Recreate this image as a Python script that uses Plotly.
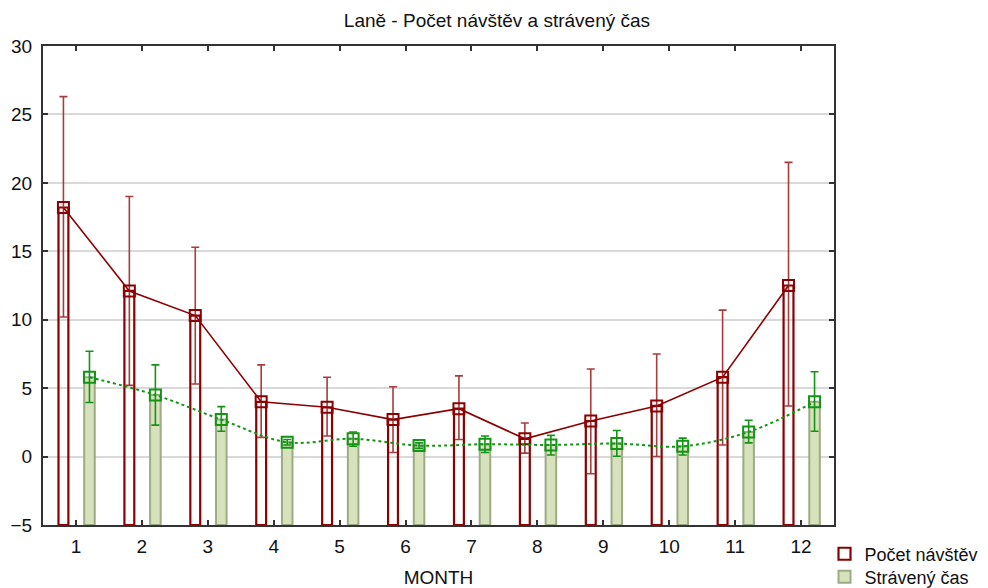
import numpy as np
import plotly.graph_objects as go

months = [1, 2, 3, 4, 5, 6, 7, 8, 9, 10, 11, 12]
month_labels = ["1", "2", "3", "4", "5", "6", "7", "8", "9", "10", "11", "12"]

# Počet návštěv (mean, upper and lower limits)
visits_mean = [18.2, 12.1, 10.3, 4.0, 3.6, 2.7, 3.5, 1.3, 2.6, 3.7, 5.8, 12.5]
visits_upper = [26.3, 19.0, 15.3, 6.7, 5.8, 5.1, 5.9, 2.45, 6.4, 7.5, 10.7, 21.5]
visits_lower = [10.2, 5.2, 5.3, 1.4, 1.5, 0.3, 1.25, 0.25, -1.25, 0.0, 0.85, 3.7]

# Strávený čas (mean, upper and lower limits)
time_mean = [5.8, 4.5, 2.7, 1.05, 1.3, 0.8, 0.9, 0.85, 0.95, 0.75, 1.8, 4.0]
time_upper = [7.7, 6.7, 3.65, 1.25, 1.8, 1.0, 1.5, 1.55, 1.9, 1.35, 2.65, 6.2]
time_lower = [3.95, 2.3, 1.85, 0.85, 0.75, 0.6, 0.3, 0.12, 0.02, 0.12, 1.0, 1.85]

y_ticks = [-5, 0, 5, 10, 15, 20, 25, 30]
y_min, y_max = -5, 30

FONT = "Arial, 'Liberation Sans', sans-serif"
RED = "#8b0000"
RED_ERR = "#a83c3c"
GREEN = "#149414"
GREEN_FILL = "#d7e2bd"
GREEN_EDGE = "#9dab85"

m = np.array(months, dtype=float)
vm, vu, vl = map(np.array, (visits_mean, visits_upper, visits_lower))
tm, tu, tl = map(np.array, (time_mean, time_upper, time_lower))

RED_OFF = -0.19
GREEN_OFF = 0.205
BW = 0.15

fig = go.Figure()

fig.add_trace(go.Bar(
    x=m, y=vm - y_min, base=y_min, width=BW, offset=RED_OFF - BW / 2,
    marker=dict(color="rgba(255,255,255,0)", line=dict(color=RED, width=2.2)),
    name="Počet návštěv", showlegend=True, legend="legend",
))
fig.add_trace(go.Bar(
    x=m, y=tm - y_min, base=y_min, width=0.16, offset=GREEN_OFF - 0.08,
    marker=dict(color=GREEN_FILL, line=dict(color=GREEN_EDGE, width=2)),
    name="Strávený čas", showlegend=True, legend="legend2",
))

fig.add_trace(go.Scatter(
    x=m + RED_OFF, y=vm, mode="lines+markers",
    line=dict(color=RED, width=1.6),
    marker=dict(symbol="square-open", size=11, color=RED, line=dict(width=2)),
    error_y=dict(type="data", symmetric=False, array=vu - vm, arrayminus=vm - vl,
                 color=RED_ERR, thickness=1.6, width=4),
    showlegend=False,
))
fig.add_trace(go.Scatter(
    x=m + GREEN_OFF, y=tm, mode="lines",
    line=dict(color=GREEN, width=2, dash="dot", shape="spline", smoothing=1.0),
    showlegend=False,
))
fig.add_trace(go.Scatter(
    x=m + GREEN_OFF, y=tm, mode="markers",
    marker=dict(symbol="square-open", size=11, color=GREEN, line=dict(width=2)),
    error_y=dict(type="data", symmetric=False, array=tu - tm, arrayminus=tm - tl,
                 color=GREEN, thickness=1.6, width=4),
    showlegend=False,
))

legend_common = dict(x=0.988, xanchor="left", yanchor="top",
                     font=dict(size=18), bgcolor="rgba(255,255,255,0)", itemwidth=30)

fig.update_layout(
    width=988, height=588,
    margin=dict(l=43, r=154, t=46, b=63, autoexpand=False),
    paper_bgcolor="white", plot_bgcolor="white",
    barmode="overlay",
    font=dict(family=FONT, size=19, color="#111111"),
    title=dict(text="Laně - Počet návštěv a strávený čas", x=0.503, xanchor="center",
               y=0.966, yanchor="middle", font=dict(size=19)),
    showlegend=True,
    legend=dict(y=-0.022, **legend_common),
    legend2=dict(y=-0.070, **legend_common),
)
fig.update_xaxes(
    range=[0.5, 12.5], tickmode="array", tickvals=months, ticktext=month_labels,
    ticks="inside", ticklen=5, tickwidth=1.5, tickcolor="#333333",
    showline=True, linecolor="#333333", linewidth=2, mirror="ticks",
    showgrid=False, zeroline=False, ticklabelstandoff=3,
    title=dict(text="MONTH", standoff=18, font=dict(size=19)),
)
fig.update_yaxes(
    range=[y_min, y_max], tickmode="array", tickvals=y_ticks,
    ticks="inside", ticklen=5, tickwidth=1.5, tickcolor="#333333",
    showline=True, linecolor="#333333", linewidth=2, mirror="ticks",
    showgrid=True, gridcolor="#d9d9d9", gridwidth=1.5, zeroline=False,
    ticklabelstandoff=5,
)

fig.write_html("out.html")
